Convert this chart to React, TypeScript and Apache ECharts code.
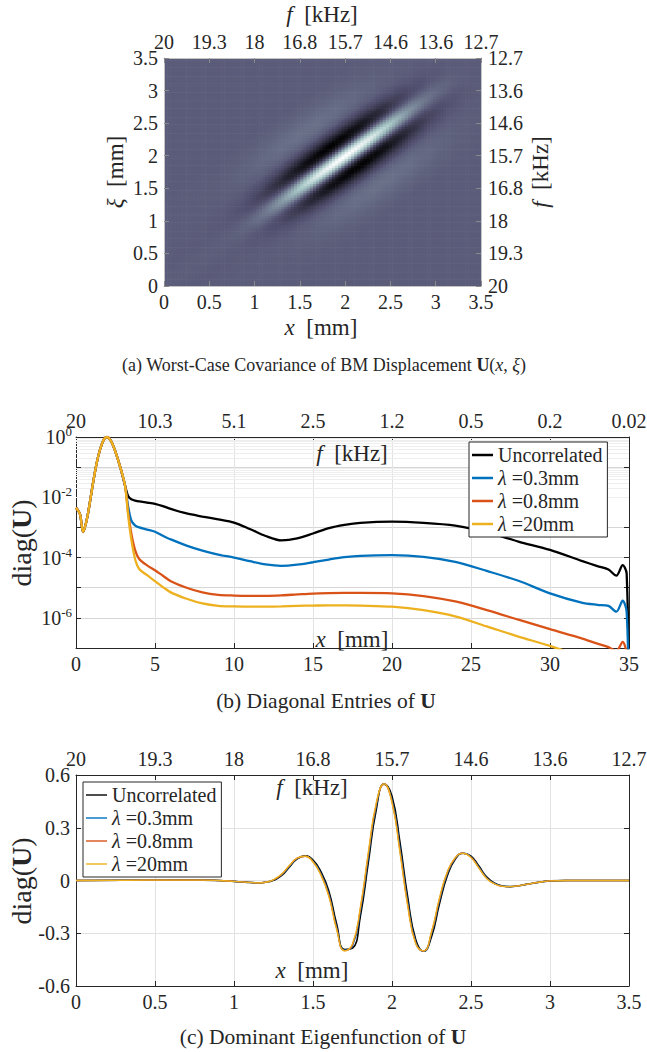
import React, { useEffect, useRef } from 'react';
import * as echarts from 'echarts';

const FONT = "'Liberation Serif', 'Times New Roman', Times, serif";
const INK = '#262626';

// ---------------- Panel (a): worst-case covariance ----------------
const fLabelsA = ['20', '19.3', '18', '16.8', '15.7', '14.6', '13.6', '12.7'];
// level across the diagonal (offset |xi - x| in mm)
const crossOffsetMm = [0, 0.05, 0.1, 0.15, 0.2, 0.25, 0.3, 0.35, 0.4, 0.5, 0.6, 0.7, 0.8, 0.9, 1.0, 1.1, 1.3];
const crossLevel = [1.0, 0.85, 0.5, 0.05, -0.35, -0.6, -0.7, -0.65, -0.5, -0.2, 0, 0.08, 0.11, 0.1, 0.07, 0.04, 0];
// level along the diagonal ((x + xi) / 2 in mm)
const ridgePosMm = [0.7, 0.9, 1.1, 1.3, 1.5, 1.7, 1.9, 2.0, 2.1, 2.3, 2.5, 2.7, 2.9, 3.1, 3.3];
const ridgeLevel = [0.01, 0.04, 0.13, 0.33, 0.6, 0.85, 0.98, 1.0, 0.97, 0.83, 0.58, 0.3, 0.12, 0.04, 0];
const CELL = 0.035;
const boneColors = ['#000000', '#1c1b26', '#37364b', '#535171', '#6f788e', '#8a9faa', '#a6c6c6', '#d3e3e3', '#ffffff'];

// ---------------- Panel (b): diagonal entries ----------------
const fLabelsB = ['20', '10.3', '5.1', '2.5', '1.2', '0.5', '0.2', '0.02'];
const diagX = [0, 0.25, 0.45, 0.7, 0.9, 1.1, 1.3, 1.5, 1.75, 1.95, 2.2, 2.45, 2.8, 3.1,
  3.3, 3.5, 3.75, 4, 4.5, 5, 5.5, 6, 7, 8, 9, 10, 11, 12, 13, 14, 15, 16, 17, 18, 20, 22, 24, 26, 28, 30,
  32, 33, 33.7, 34.2, 34.6, 34.85, 35];
const diagCommonHead = [4.5e-3, 2.8e-3, 7e-4, 2e-3, 8e-3, 3.5e-2, 0.13, 0.35, 0.8, 1.0, 0.76, 0.38, 0.1, 0.025];
const diagUncorrelated = [...diagCommonHead,
  1.1e-2, 8.6e-3, 7.8e-3, 7.3e-3, 6.7e-3, 6.1e-3, 5.1e-3, 4.1e-3, 2.9e-3, 2.3e-3, 1.85e-3, 1.45e-3, 8.9e-4, 5.2e-4, 3.7e-4, 4.3e-4,
  6.3e-4, 9.5e-4, 1.22e-3, 1.42e-3, 1.55e-3, 1.42e-3, 1.15e-3, 7e-4, 3.4e-4, 1.8e-4,
  7.8e-5, 5.2e-5, 4e-5, 2.5e-5, 5.6e-5, 3e-5, 1e-9];
const diagLam03 = [...diagCommonHead,
  5e-3, 1.7e-3, 1.15e-3, 1e-3, 8.5e-4, 7.2e-4, 5.3e-4, 4e-4, 2.5e-4, 1.7e-4, 1.26e-4, 1e-4, 7.6e-5, 5.9e-5, 5.3e-5, 5.8e-5,
  7e-5, 8.6e-5, 1.03e-4, 1.14e-4, 1.2e-4, 1.06e-4, 7.2e-5, 3.6e-5, 1.7e-5, 6.5e-6,
  3.2e-6, 2.7e-6, 2.5e-6, 1.6e-6, 3.7e-6, 1.6e-6, 1e-9];
const diagLam08 = [...diagCommonHead,
  3.2e-3, 6.3e-4, 1.7e-4, 9e-5, 5.5e-5, 3.8e-5, 2.5e-5, 1.65e-5, 1e-5, 7e-6, 5.8e-6, 5.5e-6, 5.4e-6, 5.4e-6, 5.6e-6, 6e-6,
  6.4e-6, 6.6e-6, 6.7e-6, 6.7e-6, 6.5e-6, 5.3e-6, 3.5e-6, 1.8e-6, 8.7e-7, 4.2e-7,
  2.1e-7, 1.4e-7, 1.07e-7, 8e-8, 1.6e-7, 6.3e-8, 1e-9];
const diagLam20 = [...diagCommonHead,
  2.5e-3, 4e-4, 8.5e-5, 4.2e-5, 2.6e-5, 1.65e-5, 1.05e-5, 7e-6, 4.3e-6, 3e-6, 2.5e-6, 2.4e-6, 2.35e-6, 2.35e-6, 2.4e-6, 2.5e-6,
  2.55e-6, 2.6e-6, 2.6e-6, 2.55e-6, 2.35e-6, 1.8e-6, 1.12e-6, 5.2e-7, 2.4e-7, 1.17e-7,
  5e-8, 2.5e-8, 1.6e-8, 1e-8, 1e-8, 6e-9, 3e-9];

// ---------------- Panel (c): dominant eigenfunction ----------------
const eigX = [0, 0.3, 0.6, 0.8, 0.9, 1.0, 1.05, 1.1, 1.15, 1.2,
  1.25, 1.3, 1.35, 1.4, 1.45, 1.5, 1.55, 1.6, 1.65, 1.7, 1.75, 1.8, 1.85, 1.9, 1.95, 2.0, 2.05, 2.1, 2.15, 2.2,
  2.25, 2.3, 2.35, 2.4, 2.45, 2.5, 2.55, 2.6, 2.65, 2.7,
  2.75, 2.8, 2.85, 2.9, 2.95, 3.0, 3.1, 3.5];
const eigHead = [0, 0.001, 0.002, 0.002, 0, -0.005, -0.008, -0.011, -0.013, -0.01];
const eigTail = [-0.035, -0.03, -0.022, -0.014, -0.007, -0.002, 0, 0];
const eigUncorrelated = [...eigHead,
  0.001, 0.027, 0.076, 0.123, 0.14, 0.116, 0.05, -0.059, -0.249, -0.392, -0.385, -0.202, 0.101, 0.401, 0.548,
  0.479, 0.219, -0.098, -0.335, -0.402, -0.32, -0.134, 0.027, 0.12, 0.155, 0.139, 0.082, 0.019, -0.016, -0.031,
  ...eigTail];
const eigLam03 = [...eigHead,
  0.003, 0.031, 0.08, 0.125, 0.139, 0.11, 0.04, -0.075, -0.265, -0.396, -0.373, -0.176, 0.13, 0.42, 0.55,
  0.46, 0.19, -0.124, -0.348, -0.403, -0.305, -0.117, 0.038, 0.125, 0.155, 0.134, 0.076, 0.015, -0.018, -0.032,
  ...eigTail];
const eigLam08 = [...eigHead,
  0.004, 0.033, 0.083, 0.127, 0.138, 0.107, 0.034, -0.084, -0.274, -0.399, -0.365, -0.16, 0.148, 0.432, 0.55,
  0.448, 0.172, -0.14, -0.355, -0.401, -0.296, -0.107, 0.045, 0.128, 0.155, 0.132, 0.072, 0.012, -0.019, -0.033,
  ...eigTail];
const eigLam20 = [...eigHead,
  0.005, 0.035, 0.085, 0.128, 0.138, 0.105, 0.03, -0.09, -0.28, -0.4, -0.36, -0.15, 0.16, 0.44, 0.55,
  0.44, 0.16, -0.15, -0.36, -0.4, -0.29, -0.1, 0.05, 0.13, 0.155, 0.13, 0.07, 0.01, -0.02, -0.033,
  ...eigTail];

const seriesNames = ['Uncorrelated', 'λ =0.3mm', 'λ =0.8mm', 'λ =20mm'];
const seriesColors = ['#000000', '#0072BD', '#D95319', '#EDB120'];

function lookup(xs: number[], ys: number[], t: number): number {
  if (t <= xs[0]) return ys[0];
  for (let k = 1; k < xs.length; k++) {
    if (t <= xs[k]) {
      const f = (t - xs[k - 1]) / (xs[k] - xs[k - 1]);
      return ys[k - 1] + f * (ys[k] - ys[k - 1]);
    }
  }
  return ys[ys.length - 1];
}

function buildHeat(): number[][] {
  const cells: number[][] = [];
  const n = Math.round(3.5 / CELL);
  for (let i = 0; i < n; i++) {
    for (let j = 0; j < n; j++) {
      const x = (i + 0.5) * CELL;
      const xi = (j + 0.5) * CELL;
      const v = lookup(crossOffsetMm, crossLevel, Math.abs(xi - x)) * lookup(ridgePosMm, ridgeLevel, (x + xi) / 2);
      cells.push([x, xi, v]);
    }
  }
  return cells;
}

const tickFont = { fontFamily: FONT, fontSize: 20, color: INK };

function richSet(size: number) {
  return {
    r: { fill: INK, fontFamily: FONT, fontSize: size },
    i: { fill: INK, fontFamily: FONT, fontSize: size, fontStyle: 'italic' },
    b: { fill: INK, fontFamily: FONT, fontSize: size, fontWeight: 'bold' },
  };
}

function label(text: string, x: number, y: number, size: number, rotate = false) {
  return {
    type: 'text',
    x,
    y,
    z: 100,
    rotation: rotate ? Math.PI / 2 : 0,
    style: { text, rich: richSet(size), align: 'center', verticalAlign: 'middle', fill: INK, fontFamily: FONT, fontSize: size },
  };
}

function axisCommon(lineColor: string, tickColor: string = INK) {
  return {
    axisLine: { show: true, onZero: false, lineStyle: { color: lineColor, width: 1 } },
    axisTick: { show: true, inside: true, length: 5, lineStyle: { color: tickColor } },
  };
}

export default function App() {
  const ref = useRef<HTMLDivElement>(null);

  useEffect(() => {
    if (!ref.current) return;
    const chart = echarts.init(ref.current, undefined, { renderer: 'svg' });

    const gridLine = { show: true, lineStyle: { color: '#e2e2e2', width: 1 } };
    const heatLine = '#c4c4c4';
    const heatTick = '#8a8a8a';

    const xAxes: any[] = [
      // grid 0 (heatmap)
      { gridIndex: 0, type: 'value', position: 'bottom', min: 0, max: 3.5, interval: 0.5, z: 5,
        ...axisCommon(heatLine, heatTick), splitLine: { show: false },
        axisLabel: { ...tickFont, margin: 6 } },
      { gridIndex: 0, type: 'value', position: 'top', min: 0, max: 3.5, interval: 0.5, z: 5,
        ...axisCommon(heatLine, heatTick), splitLine: { show: false },
        axisLabel: { ...tickFont, margin: 6, formatter: (v: number) => fLabelsA[Math.round(v / 0.5)] } },
      // grid 1 (diagonal entries)
      { gridIndex: 1, type: 'value', position: 'bottom', min: 0, max: 35, interval: 5,
        ...axisCommon(INK), splitLine: gridLine,
        axisLabel: { ...tickFont, margin: 6 } },
      { gridIndex: 1, type: 'value', position: 'top', min: 0, max: 35, interval: 5,
        ...axisCommon(INK), splitLine: { show: false },
        axisLabel: { ...tickFont, margin: 6, formatter: (v: number) => fLabelsB[Math.round(v / 5)] } },
      // grid 2 (eigenfunction)
      { gridIndex: 2, type: 'value', position: 'bottom', min: 0, max: 3.5, interval: 0.5,
        ...axisCommon(INK), splitLine: gridLine,
        axisLabel: { ...tickFont, margin: 6 } },
      { gridIndex: 2, type: 'value', position: 'top', min: 0, max: 3.5, interval: 0.5,
        ...axisCommon(INK), splitLine: { show: false },
        axisLabel: { ...tickFont, margin: 6, formatter: (v: number) => fLabelsA[Math.round(v / 0.5)] } },
    ];

    const logLabel = {
      margin: 4,
      formatter: (v: number) => {
        const e = Math.round(Math.log10(v));
        if (e % 2 !== 0) return '';
        return `{b|10}{s|${e}}`;
      },
      rich: {
        b: { fontFamily: FONT, fontSize: 20, color: INK },
        s: { fontFamily: FONT, fontSize: 13, color: INK, padding: [0, 0, 11, 0] },
      },
    };

    const yAxes: any[] = [
      { gridIndex: 0, type: 'value', position: 'left', min: 0, max: 3.5, interval: 0.5, z: 5,
        ...axisCommon(heatLine, heatTick), splitLine: { show: false },
        axisLabel: { ...tickFont, margin: 6 } },
      { gridIndex: 0, type: 'value', position: 'right', min: 0, max: 3.5, interval: 0.5, z: 5,
        ...axisCommon(heatLine, heatTick), splitLine: { show: false },
        axisLabel: { ...tickFont, margin: 7, formatter: (v: number) => fLabelsA[Math.round(v / 0.5)] } },
      { gridIndex: 1, type: 'log', logBase: 10, position: 'left', min: 1e-7, max: 1,
        ...axisCommon(INK), splitLine: { show: true, lineStyle: { color: '#d6d6d6', width: 1 } },
        axisLabel: logLabel },
      { gridIndex: 1, type: 'log', logBase: 10, position: 'right', min: 1e-7, max: 1,
        ...axisCommon(INK), splitLine: { show: false }, axisLabel: { show: false } },
      { gridIndex: 2, type: 'value', position: 'left', min: -0.6, max: 0.6, interval: 0.3,
        ...axisCommon(INK), splitLine: gridLine,
        axisLabel: { ...tickFont, margin: 6 } },
      { gridIndex: 2, type: 'value', position: 'right', min: -0.6, max: 0.6, interval: 0.3,
        ...axisCommon(INK), splitLine: { show: false }, axisLabel: { show: false } },
    ];

    const minorLogGrid: number[] = [];
    for (let e = -7; e < 0; e++) {
      for (let m = 2; m <= 9; m++) minorLogGrid.push(m * Math.pow(10, e));
    }

    const diagSeries = [diagUncorrelated, diagLam03, diagLam08, diagLam20].map((vals, k) => ({
      type: 'line',
      name: seriesNames[k],
      xAxisIndex: 2,
      yAxisIndex: 2,
      data: diagX.map((x, i) => [x, vals[i]]),
      showSymbol: false,
      symbol: 'none',
      smooth: 0.3,
      clip: true,
      z: 3,
      lineStyle: { color: seriesColors[k], width: 2.3 },
      itemStyle: { color: seriesColors[k] },
    }));

    const eigSeries = [eigUncorrelated, eigLam03, eigLam08, eigLam20].map((vals, k) => ({
      type: 'line',
      name: seriesNames[k],
      xAxisIndex: 4,
      yAxisIndex: 4,
      data: eigX.map((x, i) => [x, vals[i]]),
      showSymbol: false,
      symbol: 'none',
      smooth: 0.5,
      clip: true,
      z: 3,
      lineStyle: { color: seriesColors[k], width: k === 0 ? 1.6 : 1.3 },
      itemStyle: { color: seriesColors[k] },
    }));

    const legendText = {
      fontFamily: FONT,
      fontSize: 20,
      color: INK,
      lineHeight: 20,
      rich: {
        i: { fontFamily: FONT, fontSize: 20, fontStyle: 'italic', color: INK },
        r: { fontFamily: FONT, fontSize: 20, color: INK },
      },
    };
    const legendFormatter = (name: string) =>
      name.startsWith('λ') ? `{i|λ}{r|${name.slice(1)}}` : `{r|${name}}`;

    const option: any = {
      animation: false,
      textStyle: { fontFamily: FONT },
      grid: [
        { left: 164, top: 58, width: 317, height: 228, containLabel: false, outerBoundsMode: 'none' },
        { left: 76, top: 437, width: 553, height: 211, containLabel: false, outerBoundsMode: 'none' },
        { left: 76, top: 775, width: 553, height: 211, containLabel: false, outerBoundsMode: 'none' },
      ],
      xAxis: xAxes,
      yAxis: yAxes,
      visualMap: {
        type: 'continuous',
        show: false,
        seriesIndex: 0,
        dimension: 2,
        min: -0.7,
        max: 1.0,
        inRange: { color: boneColors },
      },
      legend: [
        {
          orient: 'vertical', left: 469, top: 442, icon: 'rect', itemWidth: 21, itemHeight: 2.5, itemGap: 3,
          padding: [3, 5, 3, 3], backgroundColor: '#ffffff', borderColor: INK, borderWidth: 1, borderRadius: 0,
          z: 20, data: seriesNames, formatter: legendFormatter, textStyle: legendText, selectedMode: false,
        },
        {
          orient: 'vertical', left: 83, top: 782, icon: 'rect', itemWidth: 21, itemHeight: 1.4, itemGap: 3,
          padding: [3, 5, 3, 3], backgroundColor: '#ffffff', borderColor: INK, borderWidth: 1, borderRadius: 0,
          z: 20, data: seriesNames, formatter: legendFormatter, textStyle: legendText, selectedMode: false,
        },
      ],
      series: [
        {
          type: 'custom',
          xAxisIndex: 0,
          yAxisIndex: 0,
          data: buildHeat(),
          encode: { x: 0, y: 1 },
          clip: true,
          progressive: 0,
          z: 1,
          silent: true,
          renderItem: (params: any, api: any) => {
            const x = api.value(0);
            const y = api.value(1);
            const h = CELL / 2;
            const p0 = api.coord([x - h, y + h]);
            const p1 = api.coord([x + h, y - h]);
            return {
              type: 'rect',
              shape: { x: p0[0], y: p0[1], width: p1[0] - p0[0] + 0.6, height: p1[1] - p0[1] + 0.6 },
              style: { fill: api.visual('color') },
            };
          },
        },
        {
          type: 'line',
          xAxisIndex: 2,
          yAxisIndex: 2,
          data: [],
          silent: true,
          z: 1,
          markLine: {
            silent: true,
            symbol: 'none',
            z: 1,
            label: { show: false },
            lineStyle: { color: '#eeeeee', width: 1, type: 'solid' },
            data: minorLogGrid.map((v) => ({ yAxis: v })),
          },
        },
        ...diagSeries,
        ...eigSeries,
      ],
      graphic: [
        label('{i|f}{r|  [kHz]}', 322, 14, 23),
        label('{i|x}{r|  [mm]}', 321, 327, 23),
        label('{i|ξ}{r|  [mm]}', 115, 172, 23, true),
        label('{i|f}{r|  [kHz]}', 540, 172, 23, true),
        label('{r|(a) Worst-Case Covariance of BM Displacement }{b|U}{r|(}{i|x}{r|, }{i|ξ}{r|)}', 324, 365, 18),
        label('{i|f}{r|  [kHz]}', 352, 453, 23),
        label('{i|x}{r|  [mm]}', 352, 639, 23),
        label('{r|diag(}{b|U}{r|)}', 21, 543, 28, true),
        label('{r|(b) Diagonal Entries of }{b|U}', 326, 701, 21.5),
        label('{i|f}{r|  [kHz]}', 312, 787, 23),
        label('{i|x}{r|  [mm]}', 312, 970, 23),
        label('{r|diag(}{b|U}{r|)}', 21, 881, 28, true),
        label('{r|(c) Dominant Eigenfunction of }{b|U}', 323, 1037, 21.5),
      ],
    };

    chart.setOption(option);
    return () => chart.dispose();
  }, []);

  return (
    <div
      ref={ref}
      style={{ position: 'absolute', left: 0, top: 0, width: 647, height: 1052, background: '#ffffff' }}
    />
  );
}
